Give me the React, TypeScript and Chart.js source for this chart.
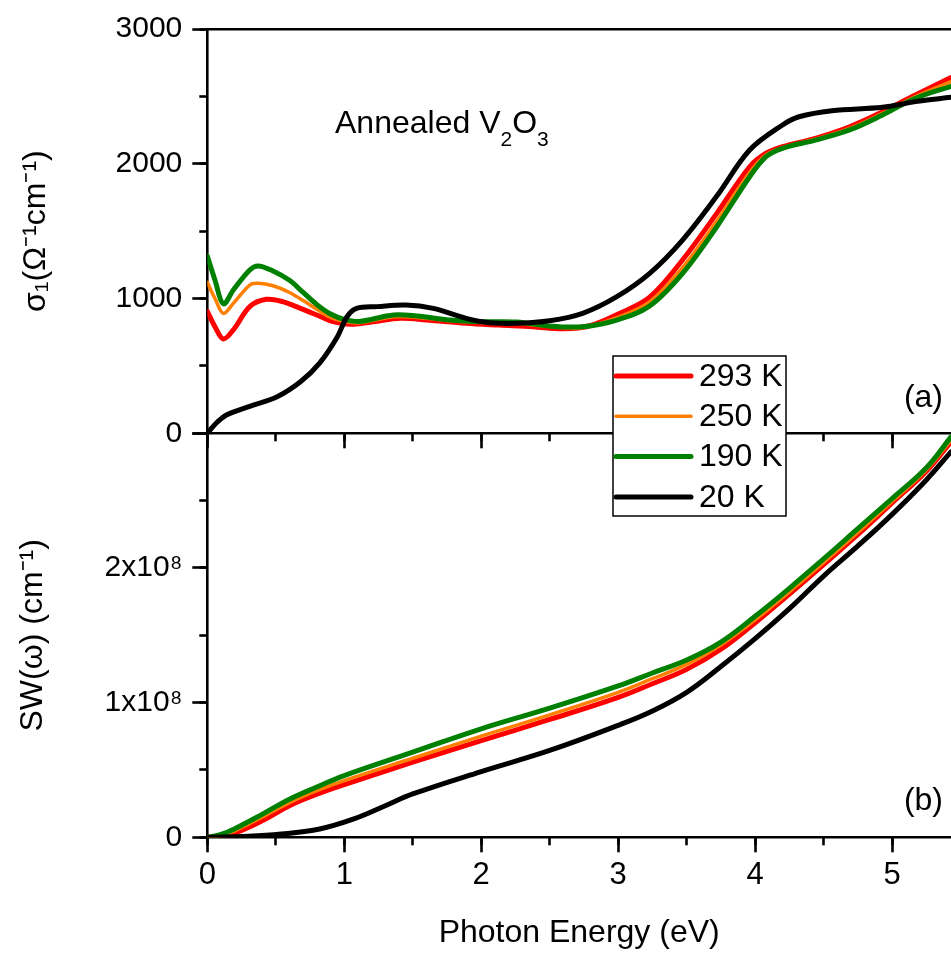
import React, { useEffect, useRef } from "react";
import { Chart, registerables } from "chart.js";

Chart.register(...registerables);

// ---------- geometry / style constants ----------
const W = 951;
const H = 954;
const PLOT_LEFT = 207.3;
const PLOT_TOP = 29;
const PANEL_SPLIT = 433.3;
const PLOT_BOTTOM = 837.3;
const FONT = "'Liberation Sans', Arial, Helvetica, sans-serif";
const AXIS_W = 2.6;
const MAJOR_TICK = 15;
const MINOR_TICK = 8;

// ---------- axes ----------
const X_MIN = 0;
const X_MAX = 5.43;
const X_TICK_LABELS = ["0", "1", "2", "3", "4", "5"];
const SIG_MIN = 0;
const SIG_MAX = 3000;
const SIG_TICK_LABELS = ["0", "1000", "2000", "3000"];
const SW_MIN = 0;
const SW_MAX = 2.815e8;
const SW_TICK_LABELS = ["0", "1x10\u2078", "2x10\u2078"];

// ---------- series ----------
const SERIES_LABELS = ["293 K", "250 K", "190 K", "20 K"];
const SERIES_COLORS = ["#ff0000", "#ff8000", "#008000", "#000000"];
const SERIES_WIDTHS = [5, 3.5, 5, 5];

// (a) optical conductivity sigma_1 (Ohm^-1 cm^-1)
const sig293E = [0, 0.056, 0.117, 0.19, 0.31, 0.43, 0.55, 0.68, 0.8, 0.92, 1.04, 1.21, 1.41, 1.6, 1.89, 2.13, 2.38, 2.6, 2.8, 3.0, 3.23, 3.47, 3.72, 3.96, 4.08, 4.2, 4.44, 4.69, 4.93, 5.17, 5.43];
const sig293 = [905, 791, 700, 767, 940, 994, 977, 927, 878, 828, 810, 828, 853, 841, 816, 803, 791, 775, 800, 885, 1010, 1286, 1632, 1978, 2078, 2127, 2189, 2275, 2386, 2510, 2640];

const sig250E = [0, 0.056, 0.117, 0.19, 0.31, 0.37, 0.48, 0.6, 0.7, 0.8, 0.9, 1.0, 1.11, 1.36, 1.53, 1.77, 2.01, 2.26, 2.5, 2.74, 2.99, 3.23, 3.47, 3.72, 3.96, 4.08, 4.2, 4.44, 4.69, 4.93, 5.17, 5.43];
const sig250 = [1120, 1000, 890, 964, 1100, 1113, 1095, 1045, 985, 920, 860, 830, 820, 865, 860, 835, 822, 815, 792, 785, 858, 975, 1230, 1575, 1935, 2065, 2120, 2182, 2262, 2374, 2498, 2610];

const sig190E = [0, 0.056, 0.117, 0.19, 0.31, 0.37, 0.48, 0.6, 0.7, 0.8, 0.9, 1.0, 1.11, 1.36, 1.53, 1.77, 2.01, 2.26, 2.5, 2.74, 2.99, 3.23, 3.47, 3.72, 3.96, 4.08, 4.2, 4.44, 4.69, 4.93, 5.17, 5.43];
const sig190 = [1316, 1138, 960, 1063, 1212, 1242, 1205, 1135, 1045, 955, 885, 845, 830, 878, 870, 841, 828, 825, 795, 791, 840, 945, 1187, 1533, 1904, 2053, 2115, 2176, 2251, 2362, 2486, 2575];

const sig20E = [0, 0.02, 0.07, 0.14, 0.31, 0.51, 0.68, 0.82, 0.95, 1.02, 1.09, 1.24, 1.45, 1.65, 1.89, 2.06, 2.26, 2.5, 2.74, 2.99, 3.23, 3.47, 3.72, 3.96, 4.2, 4.32, 4.56, 4.93, 5.17, 5.43];
const sig20 = [0, 24, 80, 136, 200, 272, 383, 521, 717, 865, 927, 940, 952, 927, 853, 821, 816, 835, 890, 1014, 1187, 1434, 1760, 2102, 2288, 2349, 2394, 2419, 2461, 2493];

// (b) spectral weight SW(omega)
const sw293E = [0, 0.1, 0.2, 0.4, 0.6, 0.8, 1.0, 1.5, 2.0, 2.5, 3.0, 3.25, 3.5, 3.75, 4.0, 4.25, 4.5, 4.75, 5.0, 5.25, 5.43];
const sw293 = [0, 0.005e8, 0.028e8, 0.115e8, 0.22e8, 0.3e8, 0.367e8, 0.523e8, 0.674e8, 0.821e8, 0.975e8, 1.07e8, 1.17e8, 1.31e8, 1.495e8, 1.695e8, 1.9e8, 2.11e8, 2.33e8, 2.55e8, 2.756e8];

const sw250E = [0, 0.1, 0.2, 0.4, 0.6, 0.8, 1.0, 1.5, 2.0, 2.5, 3.0, 3.25, 3.5, 3.75, 4.0, 4.25, 4.5, 4.75, 5.0, 5.25, 5.43];
const sw250 = [0, 0.012e8, 0.045e8, 0.14e8, 0.242e8, 0.325e8, 0.395e8, 0.551e8, 0.705e8, 0.853e8, 1.01e8, 1.105e8, 1.205e8, 1.34e8, 1.515e8, 1.71e8, 1.915e8, 2.125e8, 2.34e8, 2.56e8, 2.767e8];

const sw190E = [0, 0.1, 0.2, 0.4, 0.6, 0.8, 1.0, 1.5, 2.0, 2.5, 3.0, 3.25, 3.5, 3.75, 4.0, 4.25, 4.5, 4.75, 5.0, 5.25, 5.43];
const sw190 = [0, 0.02e8, 0.06e8, 0.16e8, 0.265e8, 0.35e8, 0.43e8, 0.593e8, 0.756e8, 0.9e8, 1.055e8, 1.145e8, 1.235e8, 1.36e8, 1.54e8, 1.735e8, 1.94e8, 2.15e8, 2.36e8, 2.575e8, 2.79e8];

const sw20E = [0, 0.3, 0.54, 0.82, 1.07, 1.3, 1.5, 2.0, 2.5, 3.0, 3.25, 3.5, 3.75, 4.0, 4.25, 4.5, 4.75, 5.0, 5.25, 5.43];
const sw20 = [0, 0.007e8, 0.023e8, 0.058e8, 0.128e8, 0.22e8, 0.302e8, 0.458e8, 0.605e8, 0.78e8, 0.88e8, 1.01e8, 1.19e8, 1.384e8, 1.593e8, 1.82e8, 2.03e8, 2.25e8, 2.49e8, 2.686e8];

// ---------- text / legend placement ----------
const ANNOT_TEXT = "Annealed V";
const ANNOT_SUB1 = "2";
const ANNOT_MID = "O";
const ANNOT_SUB2 = "3";
const ANNOT_X = 335;
const ANNOT_BASE = 133;
const PANEL_A_TEXT = "(a)";
const PANEL_B_TEXT = "(b)";
const PANEL_TEXT_RIGHT = 943;
const PANEL_A_Y = 398;
const PANEL_B_Y = 801;
const LEG = { x: 613, y: 356, w: 173, h: 160, lineX0: 616, lineX1: 691, textX: 699, row0: 20, rowGap: 40.3 };

function pts(xs: number[], ys: number[]) {
  return xs.map((x, i) => ({ x, y: ys[i] }));
}

function makeDatasets(series: { x: number[]; y: number[] }[], tension: number) {
  return series.map((s, i) => ({
    label: SERIES_LABELS[i],
    data: pts(s.x, s.y),
    borderColor: SERIES_COLORS[i],
    backgroundColor: SERIES_COLORS[i],
    borderWidth: SERIES_WIDTHS[i],
    pointRadius: 0,
    fill: false,
    tension,
    borderJoinStyle: "round" as const,
    borderCapStyle: "round" as const,
    order: SERIES_LABELS.length - i,
  }));
}

const tickGrid = (len: number) => ({
  display: true,
  drawOnChartArea: false,
  drawTicks: true,
  tickLength: len,
  tickWidth: AXIS_W,
  tickColor: "#000",
  color: "#000",
});

function xAxes(withLabels: boolean, axisHeight: number) {
  return {
    x: {
      type: "linear",
      position: "bottom",
      weight: 1,
      min: X_MIN,
      max: X_MAX,
      afterFit: (s: any) => {
        s.height = axisHeight;
      },
      border: { display: true, color: "#000", width: AXIS_W },
      grid: tickGrid(MAJOR_TICK),
      ticks: {
        display: withLabels,
        stepSize: 1,
        includeBounds: false,
        autoSkip: false,
        maxRotation: 0,
        padding: 5,
        color: "#000",
        font: { family: FONT, size: 31 },
        callback: (_v: any, i: number) => X_TICK_LABELS[i] ?? "",
      },
      title: withLabels
        ? {
            display: true,
            text: "Photon Energy (eV)",
            color: "#000",
            font: { family: FONT, size: 32 },
            padding: { top: 0, bottom: 2 },
          }
        : { display: false },
    },
    xMinor: {
      type: "linear",
      position: "bottom",
      weight: 0,
      min: X_MIN,
      max: X_MAX,
      afterFit: (s: any) => {
        s.height = 0;
      },
      border: { display: false },
      grid: tickGrid(MINOR_TICK),
      ticks: { display: false, stepSize: 0.5, includeBounds: false, autoSkip: false },
    },
  };
}

function yAxes(min: number, max: number, step: number, labels: string[], title: string, titlePad: number) {
  return {
    y: {
      type: "linear",
      position: "left",
      weight: 1,
      min,
      max,
      afterFit: (s: any) => {
        s.width = PLOT_LEFT;
      },
      border: { display: true, color: "#000", width: AXIS_W },
      grid: tickGrid(MAJOR_TICK),
      ticks: {
        stepSize: step,
        includeBounds: false,
        autoSkip: false,
        padding: 10,
        color: "#000",
        font: { family: FONT, size: 30 },
        callback: (_v: any, i: number) => labels[i] ?? "",
      },
      title: {
        display: true,
        text: title,
        color: "#000",
        font: { family: FONT, size: 32 },
        padding: { top: titlePad, bottom: 0 },
      },
    },
    yMinor: {
      type: "linear",
      position: "left",
      weight: 0,
      min,
      max,
      afterFit: (s: any) => {
        s.width = 0;
      },
      border: { display: false },
      grid: tickGrid(MINOR_TICK),
      ticks: { display: false, stepSize: step / 2, includeBounds: false, autoSkip: false },
    },
  };
}

const topTextPlugin = {
  id: "topText",
  afterDraw(chart: any) {
    const ctx = chart.ctx as CanvasRenderingContext2D;
    ctx.save();
    ctx.fillStyle = "#000";
    ctx.textBaseline = "alphabetic";
    ctx.textAlign = "left";
    const big = `32px ${FONT}`;
    const small = `21px ${FONT}`;
    let x = ANNOT_X;
    ctx.font = big;
    ctx.fillText(ANNOT_TEXT, x, ANNOT_BASE);
    x += ctx.measureText(ANNOT_TEXT).width;
    ctx.font = small;
    ctx.fillText(ANNOT_SUB1, x, ANNOT_BASE + 13);
    x += ctx.measureText(ANNOT_SUB1).width;
    ctx.font = big;
    ctx.fillText(ANNOT_MID, x, ANNOT_BASE);
    x += ctx.measureText(ANNOT_MID).width;
    ctx.font = small;
    ctx.fillText(ANNOT_SUB2, x, ANNOT_BASE + 13);
    ctx.font = big;
    ctx.textAlign = "right";
    ctx.textBaseline = "middle";
    ctx.fillText(PANEL_A_TEXT, PANEL_TEXT_RIGHT, PANEL_A_Y);
    ctx.restore();
  },
};

const bottomTextPlugin = {
  id: "bottomText",
  afterDraw(chart: any) {
    const ctx = chart.ctx as CanvasRenderingContext2D;
    ctx.save();
    ctx.fillStyle = "#000";
    ctx.font = `32px ${FONT}`;
    ctx.textAlign = "right";
    ctx.textBaseline = "middle";
    ctx.fillText(PANEL_B_TEXT, PANEL_TEXT_RIGHT, PANEL_B_Y);

    // legend box
    ctx.fillStyle = "#fff";
    ctx.fillRect(LEG.x, LEG.y, LEG.w, LEG.h);
    ctx.strokeStyle = "#000";
    ctx.lineWidth = 1.5;
    ctx.strokeRect(LEG.x, LEG.y, LEG.w, LEG.h);
    chart.data.datasets.forEach((ds: any, i: number) => {
      const y = LEG.y + LEG.row0 + i * LEG.rowGap;
      ctx.beginPath();
      ctx.strokeStyle = ds.borderColor;
      ctx.lineWidth = ds.borderWidth;
      ctx.lineCap = "round";
      ctx.moveTo(LEG.lineX0, y);
      ctx.lineTo(LEG.lineX1, y);
      ctx.stroke();
      ctx.fillStyle = "#000";
      ctx.textAlign = "left";
      ctx.textBaseline = "middle";
      ctx.font = `32px ${FONT}`;
      ctx.fillText(ds.label, LEG.textX, y + 1);
    });
    ctx.restore();
  },
};

export default function App() {
  const topRef = useRef<HTMLCanvasElement | null>(null);
  const botRef = useRef<HTMLCanvasElement | null>(null);

  useEffect(() => {
    Chart.defaults.font.family = FONT;
    Chart.defaults.color = "#000";
    const common = {
      responsive: false,
      maintainAspectRatio: false,
      animation: false,
      events: [],
      plugins: { legend: { display: false }, tooltip: { enabled: false } },
    };

    const top = new Chart(topRef.current as HTMLCanvasElement, {
      type: "line",
      data: {
        datasets: makeDatasets(
          [
            { x: sig293E, y: sig293 },
            { x: sig250E, y: sig250 },
            { x: sig190E, y: sig190 },
            { x: sig20E, y: sig20 },
          ],
          0.35
        ) as any,
      },
      options: {
        ...common,
        layout: { padding: { left: 0, right: 0, top: PLOT_TOP, bottom: H - PANEL_SPLIT } },
        scales: {
          ...xAxes(false, 0),
          xTop: {
            type: "linear",
            position: "top",
            min: X_MIN,
            max: X_MAX,
            afterFit: (s: any) => {
              s.height = 0;
            },
            border: { display: true, color: "#000", width: AXIS_W },
            grid: { display: false },
            ticks: { display: false },
          },
          ...yAxes(SIG_MIN, SIG_MAX, 1000, SIG_TICK_LABELS, "\u03c3\u2081(\u03a9\u207b\u00b9cm\u207b\u00b9)", 17),
        },
      } as any,
      plugins: [topTextPlugin],
    });

    const bottom = new Chart(botRef.current as HTMLCanvasElement, {
      type: "line",
      data: {
        datasets: makeDatasets(
          [
            { x: sw293E, y: sw293 },
            { x: sw250E, y: sw250 },
            { x: sw190E, y: sw190 },
            { x: sw20E, y: sw20 },
          ],
          0.4
        ) as any,
      },
      options: {
        ...common,
        layout: { padding: { left: 0, right: 0, top: PANEL_SPLIT, bottom: 0 } },
        scales: {
          ...xAxes(true, H - PLOT_BOTTOM),
          ...yAxes(SW_MIN, SW_MAX, 1e8, SW_TICK_LABELS, "SW(\u03c9) (cm\u207b\u00b9)", 14),
        },
      } as any,
      plugins: [bottomTextPlugin],
    });

    return () => {
      top.destroy();
      bottom.destroy();
    };
  }, []);

  const cv: React.CSSProperties = { position: "absolute", left: 0, top: 0, width: W, height: H };
  return (
    <div style={{ position: "absolute", left: 0, top: 0, width: W, height: H, background: "#fff", overflow: "hidden" }}>
      <canvas ref={topRef} width={W} height={H} style={cv} />
      <canvas ref={botRef} width={W} height={H} style={cv} />
    </div>
  );
}
